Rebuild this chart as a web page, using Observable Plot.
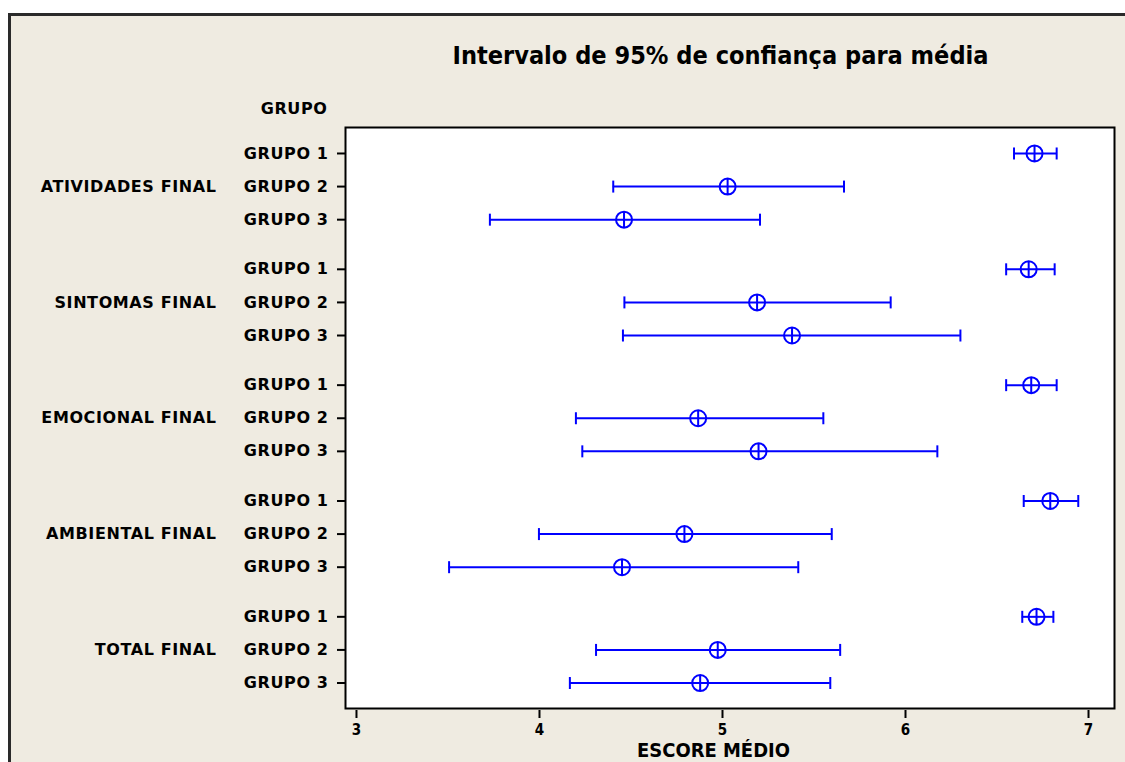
<!DOCTYPE html>
<html><head><meta charset="utf-8">
<script src="https://cdn.jsdelivr.net/npm/d3@7"></script>
<script src="https://cdn.jsdelivr.net/npm/@observablehq/plot@0.6"></script>
<style>
html,body{margin:0;padding:0;background:#fff;width:1125px;height:762px;overflow:hidden}
#frame{position:absolute;left:8px;top:13px;width:1200px;height:800px;border-left:3px solid #2a2a2a;border-top:3px solid #2a2a2a;background:#EFEBE1;box-sizing:border-box}
#chart{position:absolute;left:0;top:0}
</style></head><body><div id="frame"></div><div id="chart"></div>
<script>
const scales = ["ATIVIDADES FINAL", "SINTOMAS FINAL", "EMOCIONAL FINAL", "AMBIENTAL FINAL", "TOTAL FINAL"];
const groups = ["GRUPO 1", "GRUPO 2", "GRUPO 3"];
const means = [[6.705, 5.028, 4.462], [6.673, 5.189, 5.380], [6.687, 4.867, 5.197], [6.791, 4.792, 4.451], [6.716, 4.974, 4.878]];
const lower = [[6.593, 4.403, 3.729], [6.550, 4.464, 4.456], [6.550, 4.199, 4.234], [6.646, 3.997, 3.506], [6.638, 4.309, 4.166]];
const upper = [[6.826, 5.664, 5.205], [6.815, 5.919, 6.300], [6.826, 5.551, 6.174], [6.944, 5.597, 5.414], [6.808, 5.643, 5.589]];
const xTicks = [3, 4, 5, 6, 7];
const title = "Intervalo de 95% de confiança para média";
const xLabel = "ESCORE MÉDIO";
const yHeader = "GRUPO";

const GAP = 3.5;
const rows = [];
scales.forEach((s, si) => groups.forEach((g, gi) => {
  rows.push({scale: s, group: g, pos: si * GAP + gi, mean: means[si][gi], lo: lower[si][gi], hi: upper[si][gi]});
}));
const labelByPos = new Map(rows.map(d => [d.pos, d.group]));
const scaleRows = scales.map((s, si) => ({scale: s, pos: si * GAP + 1}));

const circlePlus = {
  draw(ctx, size) {
    const r = Math.sqrt(size / Math.PI);
    ctx.moveTo(r, 0);
    ctx.arc(0, 0, r, 0, 2 * Math.PI);
    ctx.moveTo(0, -r);
    ctx.lineTo(0, r);
  }
};
const capSymbol = {
  draw(ctx, size) {
    const r = Math.sqrt(size / Math.PI);
    ctx.moveTo(0, -r);
    ctx.lineTo(0, r);
  }
};

const BLUE = "#0000ff";
const COND = "'DejaVu Sans Condensed', 'Liberation Sans Narrow', 'DejaVu Sans', sans-serif";
const WIDE = "'DejaVu Sans', Verdana, sans-serif";

const chart = Plot.plot({
  width: 1125, height: 762,
  marginLeft: 345, marginRight: 11, marginTop: 127, marginBottom: 54,
  style: {background: "transparent", overflow: "visible", color: "black"},
  x: {domain: [2.94, 7.142]},
  y: {domain: [-0.785, 16.77], reverse: true},
  marks: [
    Plot.frame({fill: "white", stroke: "black", strokeWidth: 2}),
    Plot.axisX({ticks: xTicks, tickSize: 8, dy: 2, tickPadding: 6, label: null, tickFormat: d => String(d),
      fontSize: 15, fontWeight: "bold", fontFamily: COND, strokeWidth: 2}),
    Plot.axisY({ticks: rows.map(d => d.pos), tickFormat: p => labelByPos.get(p), tickSize: 8, tickPadding: 9, label: null,
      fontSize: 16, fontWeight: "bold", fontFamily: WIDE, strokeWidth: 2}),
    Plot.text(scaleRows, {y: "pos", text: "scale", frameAnchor: "left", dx: -129, textAnchor: "end",
      fontSize: 16, fontWeight: "bold", fontFamily: WIDE}),
    Plot.text([yHeader], {text: d => d, frameAnchor: "top-left", dx: -18, dy: -25, textAnchor: "end",
      fontSize: 16, fontWeight: "bold", fontFamily: WIDE}),
    Plot.text([title], {text: d => d, frameAnchor: "top", dx: -9.5, dy: -72, lineAnchor: "middle",
      fontSize: 25, fontWeight: "bold", fontFamily: COND}),
    Plot.text([xLabel], {text: d => d, frameAnchor: "bottom", dx: -16.5, dy: 42, lineAnchor: "middle",
      fontSize: 19, fontWeight: "bold", fontFamily: COND}),
    Plot.ruleY(rows, {y: "pos", x1: "lo", x2: "hi", stroke: BLUE, strokeWidth: 2}),
    Plot.dot(rows, {x: "lo", y: "pos", r: 6, symbol: capSymbol, stroke: BLUE, fill: "none", strokeWidth: 2}),
    Plot.dot(rows, {x: "hi", y: "pos", r: 6, symbol: capSymbol, stroke: BLUE, fill: "none", strokeWidth: 2}),
    Plot.dot(rows, {x: "mean", y: "pos", r: 8, symbol: circlePlus, stroke: BLUE, fill: "none", strokeWidth: 2})
  ]
});
document.getElementById("chart").appendChild(chart);
const svg = d3.select(chart);
svg.selectAll('g[aria-label="x-axis tick label"]').attr("font-size", 15);
svg.selectAll('g[aria-label="x-axis tick label"] text').style("font-size", "15px");
svg.selectAll('[aria-label="y-axis tick label"] text, [aria-label="text"] text').style("letter-spacing", "0.6px");
svg.selectAll('[aria-label="text"] text').each(function() {
  const t = this.textContent;
  if (t === title) d3.select(this).attr("textLength", 536).attr("lengthAdjust", "spacingAndGlyphs").style("letter-spacing", null);
  if (t === xLabel) d3.select(this).attr("textLength", 153).attr("lengthAdjust", "spacingAndGlyphs").style("letter-spacing", null);
});
</script></body></html>
